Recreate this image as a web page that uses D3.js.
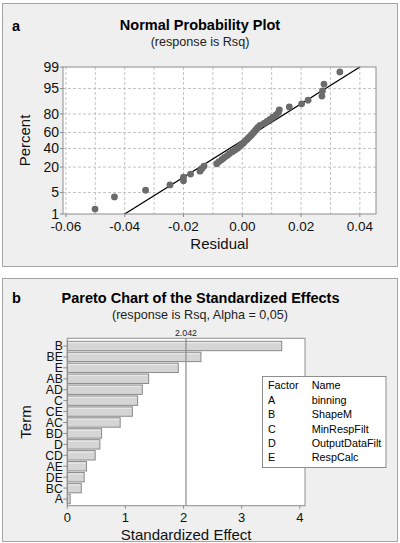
<!DOCTYPE html>
<html><head><meta charset="utf-8">
<script src="https://cdn.jsdelivr.net/npm/d3@7"></script>
<style>
html,body{margin:0;padding:0;background:#fff;}
svg{display:block;font-family:"Liberation Sans",Arial,Helvetica,sans-serif;}
</style></head>
<body>
<script>
// ---- Panel a data: residuals (sorted) and their plotted percents ----
const residuals = [-0.0501,-0.0435,-0.0329,-0.0246,-0.0200,-0.0200,-0.0176,-0.0144,-0.0137,-0.0130,
  -0.0087,-0.0079,-0.0069,-0.0061,-0.0051,-0.0044,-0.0034,-0.0025,-0.0016,-0.0010,
  -0.0003,0.0004,0.0009,0.0015,0.0021,0.0027,0.0033,0.0038,0.0043,0.0048,
  0.0053,0.0060,0.0074,0.0084,0.0094,0.0104,0.0115,0.0123,0.0126,0.0160,
  0.0202,0.0224,0.0271,0.0273,0.0278,0.0332];
const percents = [1.5,3.7,5.8,8.0,10.1,12.3,14.4,16.6,18.8,20.9,
  23.1,25.2,27.4,29.5,31.7,33.8,36.0,38.1,40.3,42.5,
  44.6,46.8,48.9,51.1,53.2,55.4,57.5,59.7,61.9,64.0,
  66.2,68.3,70.5,72.6,74.8,76.9,79.1,81.3,83.4,85.6,
  87.7,89.9,92.0,94.2,96.3,98.5];
const percentTicks = [1,5,20,40,60,80,95,99];
const residualTicks = [-0.06,-0.04,-0.02,0.00,0.02,0.04];
const residualGrid = [-0.06,-0.05,-0.04,-0.03,-0.02,-0.01,0.00,0.01,0.02,0.03,0.04];
const fitMean = 0.0;
const fitSd = 0.0172;
const fitPercents = [1,99];

// ---- Panel b data ----
const terms = ["B","BE","E","AB","AD","C","CE","AC","BD","D","CD","AE","DE","BC","A"];
const effects = [3.69,2.30,1.91,1.40,1.29,1.21,1.12,0.91,0.59,0.56,0.48,0.33,0.29,0.24,0.05];
const criticalValue = 2.042;
const effectTicks = [0,1,2,3,4];
const factors = ["A","B","C","D","E"];
const factorNames = ["binning","ShapeM","MinRespFilt","OutputDataFilt","RespCalc"];

// inverse normal CDF (Acklam)
function probit(p){
  const a=[-3.969683028665376e+01,2.209460984245205e+02,-2.759285104469687e+02,1.383577518672690e+02,-3.066479806614716e+01,2.506628277459239e+00];
  const b=[-5.447609879822406e+01,1.615858368580409e+02,-1.556989798598866e+02,6.680131188771972e+01,-1.328068155288572e+01];
  const c=[-7.784894002430293e-03,-3.223964580411365e-01,-2.400758277161838e+00,-2.549732539343734e+00,4.374664141464968e+00,2.938163982698783e+00];
  const d=[7.784695709041462e-03,3.224671290700398e-01,2.445134137142996e+00,3.754408661907416e+00];
  const pl=0.02425, ph=1-pl; let q,r;
  if(p<pl){q=Math.sqrt(-2*Math.log(p));return (((((c[0]*q+c[1])*q+c[2])*q+c[3])*q+c[4])*q+c[5])/((((d[0]*q+d[1])*q+d[2])*q+d[3])*q+1);}
  if(p<=ph){q=p-0.5;r=q*q;return (((((a[0]*r+a[1])*r+a[2])*r+a[3])*r+a[4])*r+a[5])*q/(((((b[0]*r+b[1])*r+b[2])*r+b[3])*r+b[4])*r+1);}
  q=Math.sqrt(-2*Math.log(1-p));return -(((((c[0]*q+c[1])*q+c[2])*q+c[3])*q+c[4])*q+c[5])/((((d[0]*q+d[1])*q+d[2])*q+d[3])*q+1);
}

const W=400,H=543;
const svg=d3.select("body").append("svg").attr("width",W).attr("height",H);
const panelFill="#efefef", panelStroke="#a4a4a4", frameStroke="#8e8e8e";

// ================= Panel a =================
svg.append("rect").attr("x",2.5).attr("y",3.5).attr("width",395).attr("height",263)
  .attr("fill",panelFill).attr("stroke",panelStroke);
svg.append("text").attr("x",12).attr("y",26).attr("dy","0.35em").attr("font-weight","bold")
  .attr("font-size","14.5px").text("a");
svg.append("text").attr("x",200).attr("y",25).attr("dy","0.35em").attr("text-anchor","middle")
  .attr("font-weight","bold").attr("font-size","14.5px").text("Normal Probability Plot");
svg.append("text").attr("x",200).attr("y",41.7).attr("dy","0.35em").attr("text-anchor","middle")
  .attr("font-size","12.6px").attr("fill","#222").text("(response is Rsq)");

const ax={l:63,r:376,t:67,b:214};
const xA=d3.scaleLinear().domain([-0.061,0.0455]).range([ax.l,ax.r]);
const zA=d3.scaleLinear().domain([probit(0.01),probit(0.99)]).range([ax.b,ax.t]);
const yA=p=>zA(probit(p/100));

const gA=svg.append("g");
gA.append("rect").attr("x",ax.l).attr("y",ax.t).attr("width",ax.r-ax.l).attr("height",ax.b-ax.t)
  .attr("fill","#fff");
// grid
gA.selectAll("line.vg").data(residualGrid).join("line").attr("class","vg")
  .attr("x1",d=>xA(d)).attr("x2",d=>xA(d)).attr("y1",ax.t).attr("y2",ax.b)
  .attr("stroke","#c4c4c4").attr("stroke-dasharray","3,2").attr("stroke-width",1);
gA.selectAll("line.hg").data(percentTicks.slice(1,-1)).join("line").attr("class","hg")
  .attr("x1",ax.l).attr("x2",ax.r).attr("y1",d=>yA(d)).attr("y2",d=>yA(d))
  .attr("stroke","#c4c4c4").attr("stroke-dasharray","3,2").attr("stroke-width",1);
// fitted line
const fitPts=fitPercents.map(p=>[fitMean+fitSd*probit(p/100),p]);
gA.append("line").attr("x1",xA(fitPts[0][0])).attr("y1",yA(fitPts[0][1]))
  .attr("x2",xA(fitPts[1][0])).attr("y2",yA(fitPts[1][1]))
  .attr("stroke","#000").attr("stroke-width",1.3);
// points
gA.selectAll("circle").data(residuals).join("circle")
  .attr("cx",d=>xA(d)).attr("cy",(d,i)=>yA(percents[i])).attr("r",3.4)
  .attr("fill","#6b6b6b");
gA.append("rect").attr("x",ax.l).attr("y",ax.t).attr("width",ax.r-ax.l).attr("height",ax.b-ax.t)
  .attr("fill","none").attr("stroke",frameStroke);
// y ticks
const yT=gA.selectAll("g.yt").data(percentTicks).join("g").attr("class","yt")
  .attr("transform",d=>`translate(${ax.l},${yA(d)})`);
yT.append("line").attr("x1",-3).attr("x2",0).attr("stroke",frameStroke);
yT.append("text").attr("x",-4).attr("dy","0.35em").attr("text-anchor","end")
  .attr("font-size","14px").attr("fill","#111").text(d=>d);
// x ticks
const xT=gA.selectAll("g.xt").data(residualTicks).join("g").attr("class","xt")
  .attr("transform",d=>`translate(${xA(d)},${ax.b})`);
xT.append("line").attr("y1",0).attr("y2",3).attr("stroke",frameStroke);
xT.append("text").attr("y",12.7).attr("dy","0.35em").attr("text-anchor","middle")
  .attr("font-size","13.5px").attr("fill","#111").text(d=>d3.format(".2f")(d).replace("−","-"));
gA.append("text").attr("x",(ax.l+ax.r)/2).attr("y",243.3).attr("dy","0.35em").attr("text-anchor","middle")
  .attr("font-size","15px").attr("fill","#111").text("Residual");
gA.append("text").attr("transform",`translate(25,${(ax.t+ax.b)/2}) rotate(-90)`).attr("dy","0.35em")
  .attr("text-anchor","middle").attr("font-size","15px").attr("fill","#111").text("Percent");

// ================= Panel b =================
svg.append("rect").attr("x",2.5).attr("y",278.5).attr("width",395).attr("height",263)
  .attr("fill",panelFill).attr("stroke",panelStroke);
svg.append("text").attr("x",12).attr("y",298).attr("dy","0.35em").attr("font-weight","bold")
  .attr("font-size","14.5px").text("b");
svg.append("text").attr("x",200.5).attr("y",298).attr("dy","0.35em").attr("text-anchor","middle")
  .attr("font-weight","bold").attr("font-size","14.5px").text("Pareto Chart of the Standardized Effects");
svg.append("text").attr("x",200).attr("y",315).attr("dy","0.35em").attr("text-anchor","middle")
  .attr("font-size","12.6px").attr("fill","#222").text("(response is Rsq, Alpha = 0,05)");

const bx={l:67.3,r:305,t:338.3,b:505.7};
const xB=d3.scaleLinear().domain([0,4.09]).range([bx.l,bx.r]);
const yB=d3.scaleBand().domain(terms).range([340.5,504.5]).paddingInner(0.14).paddingOuter(0.07);
const gB=svg.append("g");
gB.append("rect").attr("x",bx.l).attr("y",bx.t).attr("width",bx.r-bx.l).attr("height",bx.b-bx.t)
  .attr("fill","#fff");
gB.selectAll("rect.bar").data(effects).join("rect").attr("class","bar")
  .attr("x",xB(0)).attr("y",(d,i)=>yB(terms[i])).attr("width",d=>xB(d)-xB(0))
  .attr("height",yB.bandwidth()).attr("fill","#d5d5d5").attr("stroke","#8a8a8a").attr("stroke-width",1);
gB.selectAll("line.hl").data(effects).join("line").attr("class","hl")
  .attr("x1",xB(0)+1).attr("x2",d=>xB(d)-1).attr("y1",(d,i)=>yB(terms[i])+1.5).attr("y2",(d,i)=>yB(terms[i])+1.5)
  .attr("stroke","#ececec").attr("stroke-width",1);
gB.append("line").attr("x1",xB(criticalValue)).attr("x2",xB(criticalValue)).attr("y1",bx.t).attr("y2",bx.b)
  .attr("stroke","#8a8a8a").attr("stroke-width",1.2);
gB.append("text").attr("x",xB(criticalValue)).attr("y",333).attr("dy","0.35em").attr("text-anchor","middle")
  .attr("font-size","8.8px").attr("fill","#222").text(d3.format(".3f")(criticalValue));
gB.append("rect").attr("x",bx.l).attr("y",bx.t).attr("width",bx.r-bx.l).attr("height",bx.b-bx.t)
  .attr("fill","none").attr("stroke",frameStroke);
// y ticks
const tB=gB.selectAll("g.yt").data(terms).join("g").attr("class","yt")
  .attr("transform",d=>`translate(${bx.l},${yB(d)+yB.bandwidth()/2})`);
tB.append("line").attr("x1",-4).attr("x2",0).attr("stroke",frameStroke);
tB.append("text").attr("x",-4.5).attr("dy","0.36em").attr("text-anchor","end")
  .attr("font-size","12.2px").attr("fill","#111").text(d=>d);
// x ticks
const xTB=gB.selectAll("g.xt").data(effectTicks).join("g").attr("class","xt")
  .attr("transform",d=>`translate(${xB(d)},${bx.b})`);
xTB.append("line").attr("y1",0).attr("y2",3).attr("stroke",frameStroke);
xTB.append("text").attr("y",11.5).attr("dy","0.35em").attr("text-anchor","middle")
  .attr("font-size","13px").attr("fill","#111").text(d=>d);
gB.append("text").attr("x",(bx.l+bx.r)/2).attr("y",534.5).attr("dy","0.35em").attr("text-anchor","middle")
  .attr("font-size","15px").attr("fill","#111").text("Standardized Effect");
gB.append("text").attr("transform",`translate(26,${(bx.t+bx.b)/2}) rotate(-90)`).attr("dy","0.35em")
  .attr("text-anchor","middle").attr("font-size","15px").attr("fill","#111").text("Term");

// legend
const lg=svg.append("g");
lg.append("rect").attr("x",262.5).attr("y",376.5).attr("width",123.5).attr("height",91)
  .attr("fill","#fff").attr("stroke",frameStroke);
lg.append("text").attr("x",268).attr("y",385.5).attr("dy","0.35em").attr("font-size","10.8px").text("Factor");
lg.append("text").attr("x",311.7).attr("y",385.5).attr("dy","0.35em").attr("font-size","10.8px").text("Name");
lg.selectAll("text.f").data(factors).join("text").attr("class","f")
  .attr("x",268).attr("y",(d,i)=>400.5+i*14.2).attr("dy","0.35em").attr("font-size","10.8px").text(d=>d);
lg.selectAll("text.n").data(factorNames).join("text").attr("class","n")
  .attr("x",311.7).attr("y",(d,i)=>400.5+i*14.2).attr("dy","0.35em").attr("font-size","10.8px").text(d=>d);
</script>
</body></html>
